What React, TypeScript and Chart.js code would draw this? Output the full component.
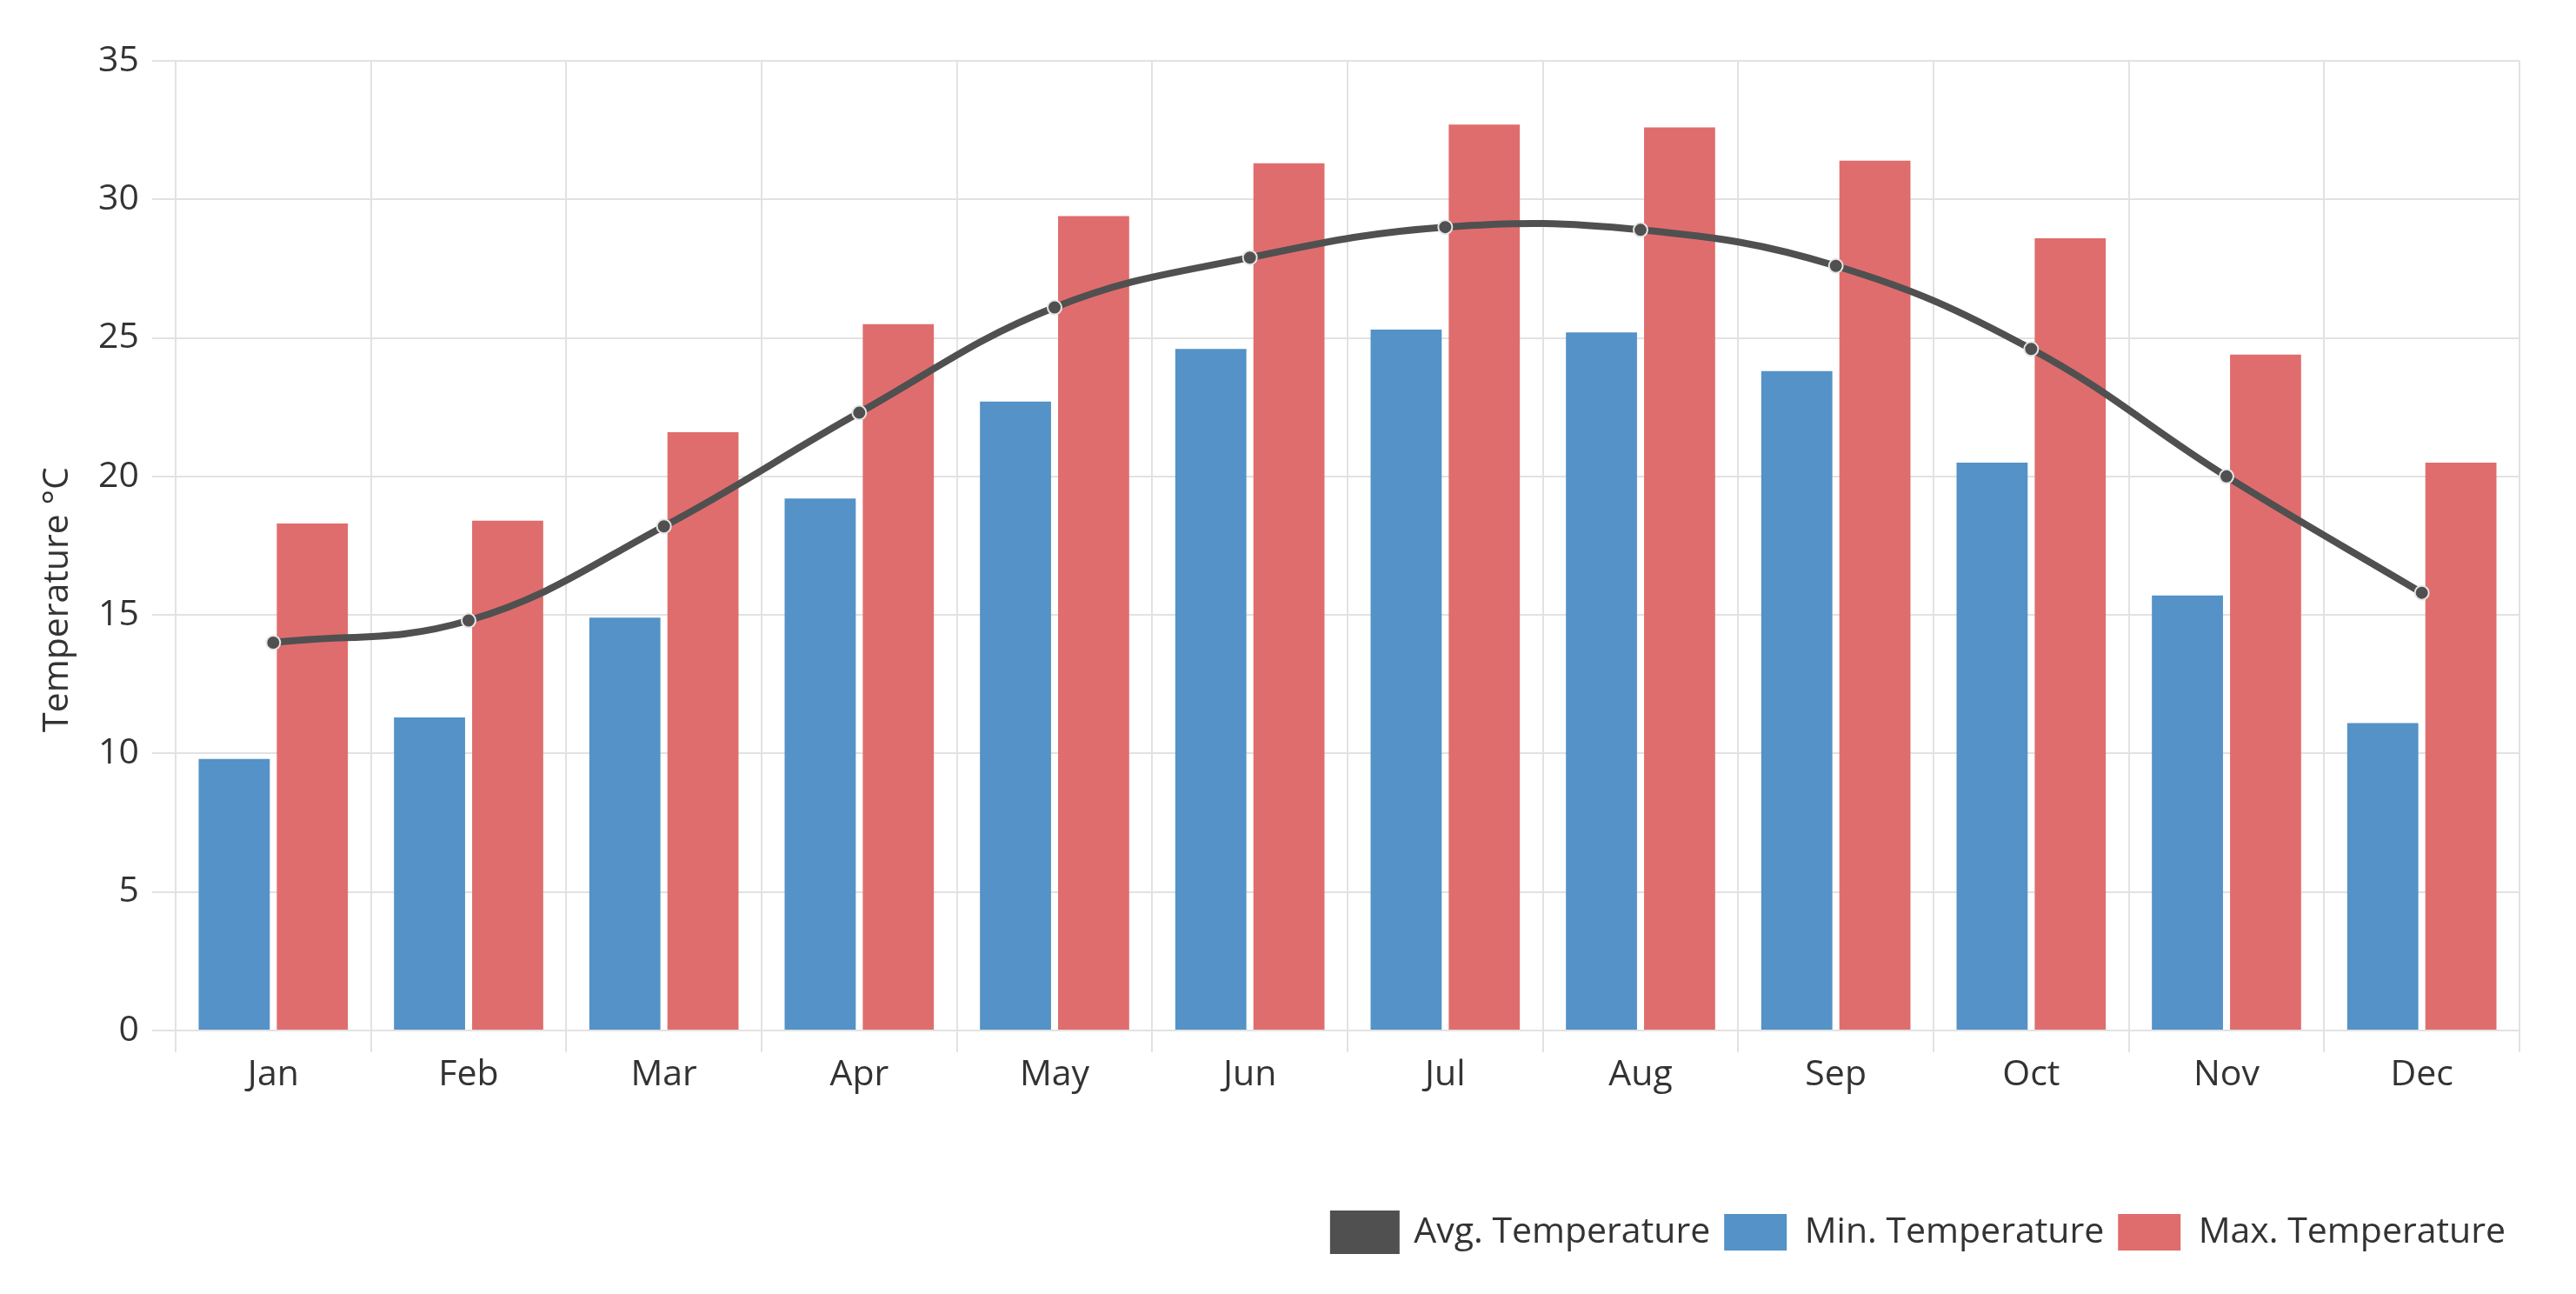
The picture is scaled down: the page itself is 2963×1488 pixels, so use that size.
import React, { useEffect, useRef } from "react";
import { Chart, registerables } from "chart.js";

Chart.register(...registerables);

const months = ["Jan", "Feb", "Mar", "Apr", "May", "Jun", "Jul", "Aug", "Sep", "Oct", "Nov", "Dec"];
const avgTemp = [14.0, 14.8, 18.2, 22.3, 26.1, 27.9, 29.0, 28.9, 27.6, 24.6, 20.0, 15.8];
const minTemp = [9.8, 11.3, 14.9, 19.2, 22.7, 24.6, 25.3, 25.2, 23.8, 20.5, 15.7, 11.1];
const maxTemp = [18.3, 18.4, 21.6, 25.5, 29.4, 31.3, 32.7, 32.6, 31.4, 28.6, 24.4, 20.5];
const seriesNames = ["Avg. Temperature", "Min. Temperature", "Max. Temperature"];
const yAxisTitle = "Temperature °C";

const FONT = "'Open Sans', sans-serif";
const FS = 41;
const TEXT = "#333333";
const GRID = "#e2e2e2";

export default function App() {
  const ref = useRef<HTMLCanvasElement>(null);

  useEffect(() => {
    if (!ref.current) return;
    const titlePlugin = {
      id: "yTitle",
      afterDraw(chart: any) {
        const { ctx, chartArea } = chart;
        ctx.save();
        ctx.translate(66, (chartArea.top + chartArea.bottom) / 2 + 62);
        ctx.rotate(-Math.PI / 2);
        ctx.font = `${FS}px ${FONT}`;
        ctx.fillStyle = TEXT;
        ctx.textAlign = "center";
        ctx.textBaseline = "middle";
        ctx.fillText(yAxisTitle, 0, 0);
        ctx.restore();
      },
    };

    const chart = new Chart(ref.current, {
      type: "bar",
      data: {
        labels: months,
        datasets: [
          {
            type: "line",
            label: seriesNames[0],
            data: avgTemp,
            borderColor: "#505050",
            backgroundColor: "#505050",
            borderWidth: 8,
            tension: 0.4,
            pointRadius: 8,
            pointBackgroundColor: "#505050",
            pointBorderColor: "#e6e6e6",
            pointBorderWidth: 2,
            fill: false,
          } as any,
          {
            type: "bar",
            label: seriesNames[1],
            data: minTemp,
            backgroundColor: "#5492c7",
            borderWidth: 0,
            categoryPercentage: 0.8,
            barPercentage: 0.91,
          },
          {
            type: "bar",
            label: seriesNames[2],
            data: maxTemp,
            backgroundColor: "#e06d6d",
            borderWidth: 0,
            categoryPercentage: 0.8,
            barPercentage: 0.91,
          },
        ],
      },
      options: {
        responsive: false,
        animation: false,
        devicePixelRatio: 1,
        layout: { padding: { top: 70, right: 65, left: 0, bottom: 40 } },
        font: { family: FONT, size: FS },
        plugins: {
          legend: {
            position: "bottom",
            align: "end",
            labels: {
              font: { family: FONT, size: FS },
              color: TEXT,
              boxWidth: 72,
              boxHeight: 42,
              padding: 16,
            },
          },
          tooltip: { enabled: false },
          title: { display: false },
        },
        scales: {
          x: {
            grid: { color: GRID, lineWidth: 2, offset: true, tickLength: 25, drawTicks: true },
            border: { color: GRID, width: 2 },
            ticks: { font: { family: FONT, size: FS }, color: TEXT, padding: 2 },
            afterFit: (s: any) => {
              s.height = 195;
            },
          },
          y: {
            min: 0,
            max: 35,
            grid: { color: GRID, lineWidth: 2, tickLength: 27 },
            border: { color: GRID, width: 2 },
            ticks: { stepSize: 5, font: { family: FONT, size: FS }, color: TEXT, padding: 15 },
            afterFit: (s: any) => {
              s.width = 202;
            },
          },
        },
      },
      plugins: [titlePlugin],
    });
    return () => chart.destroy();
  }, []);

  return (
    <div style={{ position: "fixed", left: 0, top: 0, width: 2963, height: 1488, background: "#fff" }}>
      <canvas ref={ref} width={2963} height={1488} style={{ display: "block" }} />
    </div>
  );
}
